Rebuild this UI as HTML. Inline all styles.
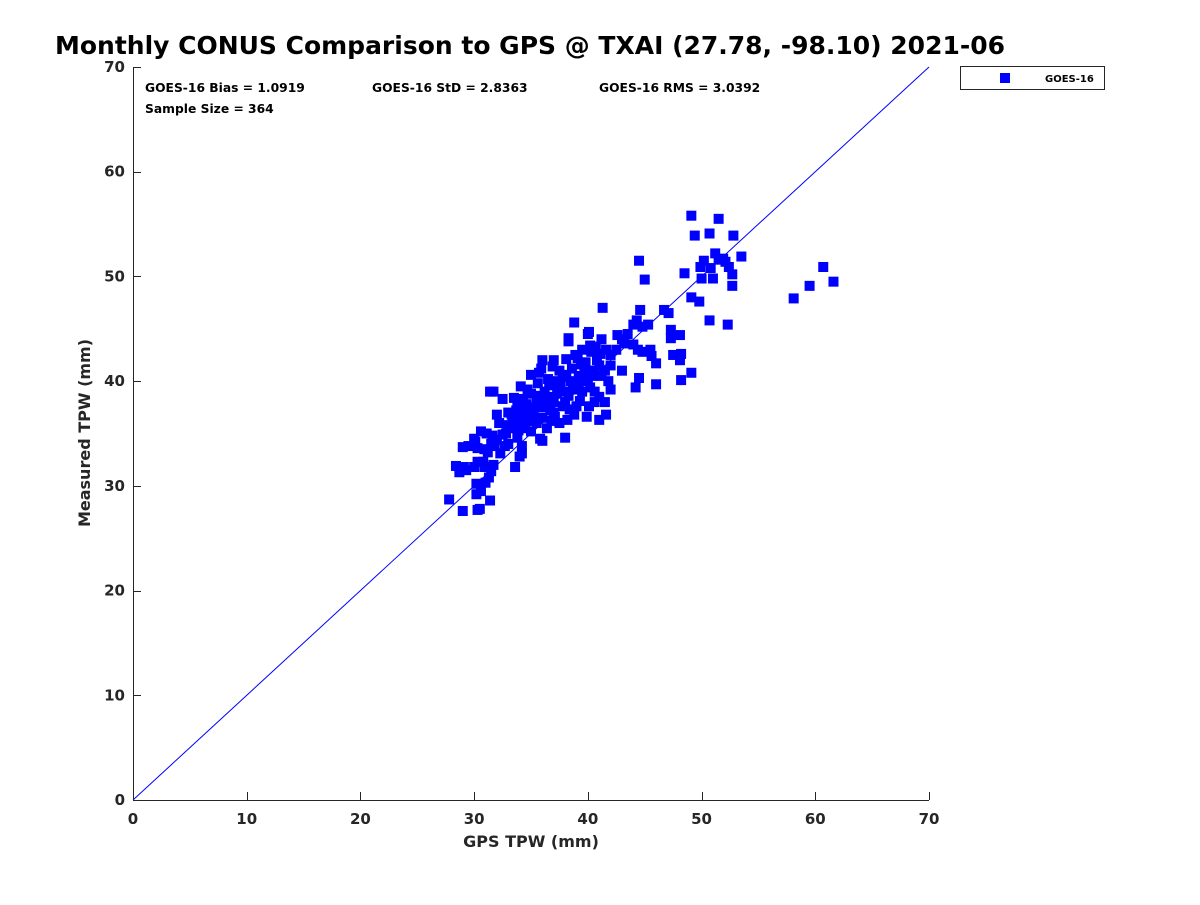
<!DOCTYPE html>
<html><head><meta charset="utf-8"><style>
body{margin:0;background:#fff;width:1200px;height:900px;overflow:hidden;font-family:"Liberation Sans","DejaVu Sans",sans-serif}
svg text{font-family:"DejaVu Sans","Liberation Sans",sans-serif;font-weight:bold;fill:#262626}
</style></head><body>
<svg id="chart" width="1200" height="900" xmlns="http://www.w3.org/2000/svg">
<text x="530" y="54" text-anchor="middle" font-size="25" textLength="950" lengthAdjust="spacingAndGlyphs" style="fill:#000">Monthly CONUS Comparison to GPS @ TXAI (27.78, -98.10) 2021-06</text>
<g id="axes"></g>
<g id="marks"></g>
<text x="145" y="92" font-size="12.3" style="fill:#000">GOES-16 Bias = 1.0919</text>
<text x="372" y="92" font-size="12.3" style="fill:#000">GOES-16 StD = 2.8363</text>
<text x="599" y="92" font-size="12.3" style="fill:#000">GOES-16 RMS = 3.0392</text>
<text x="145" y="113" font-size="12.3" style="fill:#000">Sample Size = 364</text>
<text x="531" y="847" text-anchor="middle" font-size="16">GPS TPW (mm)</text>
<text transform="translate(90,433) rotate(-90)" text-anchor="middle" font-size="16">Measured TPW (mm)</text>
<g>
<rect x="960.5" y="66.5" width="144" height="23" fill="#fff" stroke="#262626" stroke-width="1"/>
<rect x="1000" y="73" width="10" height="10" fill="#0000ff"/>
<text x="1045" y="82" font-size="10" style="fill:#000">GOES-16</text>
</g>
</svg>
<script>
const xTicks=[0,10,20,30,40,50,60,70];
const yTicks=[0,10,20,30,40,50,60,70];
const gpsTPW=[27.8,29.0,30.3,30.5,31.4,30.2,30.6,31.0,31.3,30.2,28.7,28.4,29.1,29.3,30.0,30.3,30.8,30.9,31.5,31.7,29.0,29.5,30.1,30.3,30.9,31.2,31.8,32.3,30.0,30.6,31.1,31.6,32.0,32.5,33.2,33.8,34.2,34.2,33.6,34.0,31.4,31.7,32.5,33.0,32.2,33.4,33.8,34.3,34.1,35.0,35.2,35.5,35.8,36.0,36.4,36.8,37.0,37.5,38.0,38.2,38.4,38.8,39.0,39.3,38.0,37.4,36.8,36.2,35.6,35.0,34.5,34.8,35.9,36.0,37.0,37.5,38.1,38.3,38.3,38.8,38.9,39.5,40.0,40.1,39.8,40.3,40.7,41.1,41.6,42.0,41.3,39.2,39.6,40.0,40.5,41.0,41.5,42.0,41.8,41.2,40.2,40.6,41.0,41.5,40.1,39.9,41.0,41.6,42.0,40.6,39.5,38.5,37.8,37.2,36.5,36.0,35.5,34.0,33.5,32.8,33.0,34.5,35.0,36.0,37.0,38.0,39.0,40.0,42.5,43.0,43.5,44.0,44.3,44.6,44.8,45.3,44.0,44.4,44.8,45.5,45.6,46.0,43.0,44.5,44.2,46.0,47.5,48.2,48.1,47.1,46.7,47.3,47.3,48.1,48.2,49.1,44.5,45.0,48.5,49.1,49.8,50.7,52.3,49.9,50.2,50.0,51.0,50.8,51.2,51.5,51.9,52.1,52.4,52.7,52.7,53.5,52.8,50.7,49.4,49.1,51.5,58.1,59.5,60.7,61.6,33.3,33.7,34.1,34.6,35.3,35.8,36.3,36.7,37.3,37.8,38.3,38.7,39.2,39.7,40.4,36.6,37.6,38.6,39.4,40.8,35.2,34.3,33.9,32.9,36.1,37.1,38.1,39.1,40.2,41.2,42.6,43.2,34.7,33.5,32.0,31.5,32.7,35.7,36.9];
const measuredTPW=[28.7,27.6,27.7,27.8,28.6,29.2,29.5,30.3,30.8,30.2,31.3,31.9,31.8,31.5,31.8,32.3,32.3,31.8,31.4,32.0,33.7,33.8,34.2,33.6,33.5,33.2,33.8,33.1,34.5,35.2,35.0,34.8,34.4,34.9,35.5,34.6,33.8,33.1,31.8,32.8,39.0,39.0,38.3,37.0,36.0,36.3,37.5,38.3,39.5,40.6,37.0,36.0,34.5,34.3,35.5,36.2,37.0,36.0,34.6,36.3,37.3,36.8,37.6,38.1,39.0,39.2,38.5,39.0,39.8,38.8,37.0,36.2,41.2,42.0,42.0,41.0,42.1,43.8,44.1,45.6,42.5,43.0,44.5,44.7,41.8,42.8,43.3,42.6,43.0,42.5,47.0,40.5,40.0,40.2,41.0,41.5,41.0,41.5,40.0,40.5,39.4,39.0,38.5,38.0,37.6,36.6,36.3,36.8,39.2,38.0,39.0,40.0,40.4,40.0,40.2,37.5,38.0,36.5,35.8,35.0,34.0,35.5,35.2,36.5,38.0,38.0,39.5,41.0,43.0,44.0,44.5,45.4,45.8,46.8,45.2,45.4,43.5,43.0,42.8,43.0,42.4,41.7,41.0,40.3,39.4,39.7,42.5,42.6,42.0,46.5,46.8,44.9,44.1,44.4,40.1,40.8,51.5,49.7,50.3,48.0,47.6,45.8,45.4,50.9,51.5,49.8,49.8,50.8,52.2,51.6,51.7,51.4,50.9,50.2,49.1,51.9,53.9,54.1,53.9,55.8,55.5,47.9,49.1,50.9,49.5,36.8,37.2,36.0,37.8,37.5,38.6,37.8,37.2,38.8,37.6,38.6,39.2,39.8,40.8,40.5,39.6,39.8,41.2,41.6,42.0,36.6,36.9,35.3,35.8,38.2,36.6,40.6,42.2,43.4,44.0,44.4,43.6,39.2,38.4,36.8,34.0,33.8,40.8,41.4];
const NS="http://www.w3.org/2000/svg";
const X0=133,X1=929,Y0=800,Y1=67,XMAX=70,YMAX=70;
function sx(v){return X0+(X1-X0)*v/XMAX;}
function sy(v){return Y0-(Y0-Y1)*v/YMAX;}
function mk(tag,attrs,parent){const e=document.createElementNS(NS,tag);for(const k in attrs)e.setAttribute(k,attrs[k]);parent.appendChild(e);return e;}
const axes=document.getElementById('axes');
let el=mk('line',{x1:X0,y1:Y0+0.5,x2:X1,y2:Y0+0.5,stroke:'#262626','stroke-width':1},axes);


el=mk('line',{x1:X0+0.5,y1:Y0,x2:X0+0.5,y2:Y1,stroke:'#262626','stroke-width':1},axes);


el=mk('line',{x1:sx(0),y1:sy(0),x2:sx(70),y2:sy(70),stroke:'#0000ff','stroke-width':1},axes);


xTicks.forEach(t=>{
  const x=Math.round(sx(t))+0.5;
  let l=mk('line',{x1:x,y1:Y0,x2:x,y2:Y0-8,stroke:'#262626'},axes);
  
  
  let tx=mk('text',{x:sx(t),y:Y0+24,'text-anchor':'middle','font-size':15},axes);
  tx.textContent=t;
  
  
});
yTicks.forEach(t=>{
  const y=Math.round(sy(t))+0.5;
  let l=mk('line',{x1:X0,y1:y,x2:X0+8,y2:y,stroke:'#262626'},axes);
  
  
  let tx=mk('text',{x:X0-8,y:sy(t)+5,'text-anchor':'end','font-size':15},axes);
  tx.textContent=t;
  
  
});
const marks=document.getElementById('marks');
for(let i=0;i<gpsTPW.length;i++){
  const r=mk('rect',{x:sx(gpsTPW[i])-5,y:sy(measuredTPW[i])-5,width:10,height:10,fill:'#0000ff'},marks);
  
  
}
</script>
</body></html>
